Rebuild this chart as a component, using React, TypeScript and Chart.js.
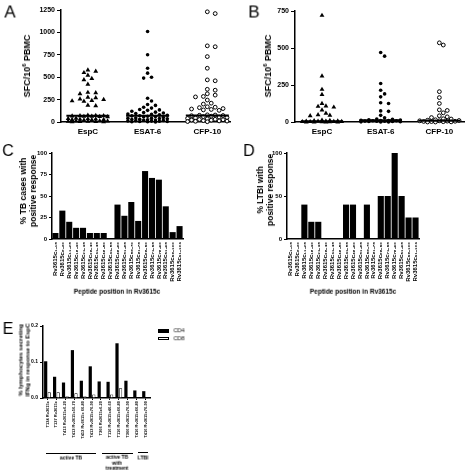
import React, { useEffect, useRef } from "react";
import { Chart, registerables } from "chart.js";
Chart.register(...registerables);

const FF = "'Liberation Sans', Arial, Helvetica, sans-serif";

// ---------- Panel A / B data ----------
const antigenCategories = ["EspC", "ESAT-6", "CFP-10"];

const tbEspC = [580, 565, 550, 520, 485, 470, 420, 330, 325, 315, 275, 270, 255, 250, 240, 235, 230, 185, 180,
  75, 72, 70, 68, 66, 64, 62, 60, 58, 40, 38, 35, 33, 30, 28, 26, 24, 22, 12, 10, 9, 8, 6, 5, 4, 3, 2];
const tbEsat6 = [1010, 750, 600, 545, 500, 490, 265, 235, 195, 185, 165, 155, 140, 135, 130, 120, 110, 105, 100, 95,
  90, 85, 80, 75, 70, 68, 65, 60, 55, 50, 45, 42, 40, 38, 35, 30, 28, 25, 22, 20, 18, 15, 12, 10, 8, 6, 5, 3, 2, 1];
const tbCfp10 = [1230, 1210, 850, 840, 730, 600, 470, 460, 365, 355, 315, 300, 285, 280, 245, 210, 200, 170, 165,
  160, 150, 145, 140, 135, 130, 80, 78, 75, 72, 70, 65, 60, 55, 50, 45, 40, 35, 30, 28, 25, 22, 20, 15, 12, 10, 8, 5, 3];
const tbMedians = [70, 70, 72];
const tbTicks = [0, 250, 500, 750, 1000, 1250];

const ltbiEspC = [720, 310, 220, 185, 125, 108, 105, 100, 80, 58, 48, 45, 42, 12, 10, 8, 6, 5, 5, 4, 3, 3, 2, 2, 1, 1, 0, 0, 0, 0];
const ltbiEsat6 = [470, 445, 260, 215, 190, 170, 130, 125, 75, 72, 45, 28, 20, 18, 15, 14, 12, 10, 10, 8, 8, 6, 5, 5, 4, 3, 2, 1, 0, 0];
const ltbiCfp10 = [535, 520, 205, 165, 125, 82, 78, 62, 42, 35, 30, 22, 20, 15, 12, 10, 8, 8, 6, 5, 4, 3, 2, 1, 0, 0];
const ltbiMedians = [5, 12, 8];
const ltbiTicks = [0, 250, 500, 750];

// ---------- Panel C / D data ----------
const peptideRanges = ["1-15", "6-20", "11-25", "16-30", "21-35", "26-40", "31-45", "36-50", "41-55", "46-60",
  "51-65", "56-70", "61-75", "66-80", "71-85", "76-90", "81-95", "86-100", "91-103"];
const tbPeptidePct = [7, 33, 20, 13, 13, 7, 7, 7, 0, 40, 27, 43, 21, 79, 71, 69, 38, 8, 15];
const ltbiPeptidePct = [0, 0, 40, 20, 20, 0, 0, 0, 40, 40, 0, 40, 0, 50, 50, 100, 50, 25, 25];

// ---------- Panel E data ----------
const tcellLabels = ["T134 Rv3615c", "T137 Rv3615c", "T413 Rv3615c6-20", "T413 Rv3615c56-70", "T413 Rv3615c 66-80",
  "T413 Rv3615c76-90", "T366 Rv3615c6-20", "T116 Rv3615c46-60", "T116 Rv3615c66-80", "T366 Rv3615c76-90",
  "T416 Rv3615c66-80", "T416 Rv3615c76-90"];
const cd4Values = [0.102, 0.059, 0.043, 0.133, 0.048, 0.088, 0.046, 0.045, 0.152, 0.048, 0.021, 0.019];
const cd8Values = [0.016, 0.016, 0.005, 0.013, 0.005, 0.010, 0.002, 0.010, 0.027, 0.002, 0, 0];
const seriesNames = ["CD4", "CD8"];

const SUBS = "₀₁₂₃₄₅₆₇₈₉";
const toSub = (s: string) => s.replace(/[0-9-]/g, (c) => (c === "-" ? "₋" : SUBS[+c]));
const peptideLabels = peptideRanges.map((r) => "Rv3615c" + toSub(r));

// simple beeswarm: horizontal offset derived from the values, in category units
function swarm(values: number[], center: number, yMax: number, plotH: number, catW: number, diam: number, maxHalf: number) {
  const placed: { x: number; y: number }[] = [];
  return values.map((v) => {
    const y = (v / yMax) * plotH;
    let best = 0;
    let bestD = -1;
    for (let k = 0; k < 60; k++) {
      const off = k === 0 ? 0 : (k % 2 ? 1 : -1) * Math.ceil(k / 2) * (diam * 0.9);
      if (Math.abs(off) > maxHalf * catW) break;
      let minD = Infinity;
      for (const p of placed) minD = Math.min(minD, Math.hypot(p.x - off, p.y - y));
      if (minD >= diam) { best = off; bestD = minD; break; }
      if (minD > bestD) { bestD = minD; best = off; }
    }
    placed.push({ x: best, y });
    return { x: center + best / catW, y: v };
  });
}

const axisBorder = { display: true, color: "#000", width: 1.5 };
const yTickGrid = { display: true, drawOnChartArea: false, drawTicks: true, tickLength: 3, color: "#000", lineWidth: 1 };
const noGrid = { display: false, drawTicks: false };

function scatterConfig(series: number[][], medians: number[], ticks: number[], yMax: number, xMin: number, xMax: number,
  yWidth: number, plotH: number, catW: number): any {
  const styles = [
    { pointStyle: "triangle", radius: 2.8, backgroundColor: "#000", borderColor: "#000", borderWidth: 0 },
    { pointStyle: "circle", radius: 1.8, backgroundColor: "#000", borderColor: "#000", borderWidth: 0 },
    { pointStyle: "circle", radius: 1.9, backgroundColor: "#fff", borderColor: "#000", borderWidth: 1 },
  ];
  const medianSets = medians.map((m, i) => ({
    type: "line",
    data: [{ x: i + 1 - 0.36, y: m }, { x: i + 1 + 0.36, y: m }],
    borderColor: "#000",
    borderWidth: 2,
    pointRadius: 0,
    clip: false,
    order: -1,
  }));
  const pointSets = series.map((vals, i) => ({
    type: "scatter",
    data: swarm(vals, i + 1, yMax, plotH, catW, 4.4, 0.36),
    pointRadius: styles[i].radius,
    pointStyle: styles[i].pointStyle,
    pointBackgroundColor: styles[i].backgroundColor,
    pointBorderColor: styles[i].borderColor,
    pointBorderWidth: styles[i].borderWidth,
    backgroundColor: styles[i].backgroundColor,
    borderColor: styles[i].borderColor,
    clip: false,
  }));
  return {
    type: "scatter",
    data: { datasets: [...medianSets, ...pointSets] },
    options: {
      responsive: false,
      animation: false,
      events: [],
      layout: { padding: { top: 0, right: 0, bottom: 0, left: 0 } },
      plugins: { legend: { display: false }, tooltip: { enabled: false } },
      scales: {
        x: {
          type: "linear",
          min: xMin,
          max: xMax,
          afterBuildTicks: (s: any) => { s.ticks = [1, 2, 3].map((v) => ({ value: v })); },
          ticks: {
            callback: (v: any) => antigenCategories[Math.round(v) - 1],
            color: "#000",
            font: { family: FF, size: 8, weight: "bold" },
            padding: 5,
            autoSkip: false,
            maxRotation: 0,
          },
          grid: noGrid,
          border: axisBorder,
          afterFit: (s: any) => { s.height = 23; },
        },
        y: {
          min: 0,
          max: yMax,
          afterBuildTicks: (s: any) => { s.ticks = ticks.map((v) => ({ value: v })); },
          ticks: { color: "#000", font: { family: FF, size: 7, weight: "bold" }, padding: 2, callback: (v: any) => String(v) },
          grid: { ...yTickGrid, tickLength: 4 },
          border: axisBorder,
          afterFit: (s: any) => { s.width = yWidth; },
        },
      },
    },
  };
}

function barConfig(values: number[], max: number, step: number, yWidth: number): any {
  return {
    type: "bar",
    data: {
      labels: peptideLabels,
      datasets: [{ data: values, backgroundColor: "#000", borderWidth: 0, barPercentage: 0.88, categoryPercentage: 1.0 }],
    },
    options: {
      responsive: false,
      animation: false,
      events: [],
      plugins: { legend: { display: false }, tooltip: { enabled: false } },
      scales: {
        x: {
          ticks: {
            color: "#000",
            font: { family: FF, size: 6, weight: "bold" },
            minRotation: 90,
            maxRotation: 90,
            autoSkip: false,
            padding: 3,
          },
          grid: noGrid,
          border: axisBorder,
          afterFit: (s: any) => { s.height = 51; },
        },
        y: {
          min: 0,
          max,
          ticks: { stepSize: step, color: "#000", font: { family: FF, size: 6, weight: "bold" }, padding: 2 },
          grid: yTickGrid,
          border: axisBorder,
          afterFit: (s: any) => { s.width = yWidth; },
        },
      },
    },
  };
}

function groupedConfig(): any {
  return {
    type: "bar",
    data: {
      labels: tcellLabels,
      datasets: [
        { label: seriesNames[0], data: cd4Values, backgroundColor: "#000", borderColor: "#000", borderWidth: 0, barPercentage: 0.9, categoryPercentage: 0.8 },
        { label: seriesNames[1], data: cd8Values, backgroundColor: "#fff", borderColor: "#000", borderWidth: 0.8, barPercentage: 0.9, categoryPercentage: 0.8 },
      ],
    },
    options: {
      responsive: false,
      animation: false,
      events: [],
      plugins: { legend: { display: false }, tooltip: { enabled: false } },
      scales: {
        x: {
          ticks: {
            color: "#000",
            font: { family: FF, size: 4, weight: "bold" },
            minRotation: 90,
            maxRotation: 90,
            autoSkip: false,
            padding: 1,
          },
          grid: { display: true, offset: false, drawOnChartArea: false, drawTicks: true, tickLength: 2, color: "#000", lineWidth: 1 },
          border: axisBorder,
          afterFit: (s: any) => { s.height = 47; },
        },
        y: {
          min: 0,
          max: 0.2,
          ticks: { stepSize: 0.1, color: "#000", font: { family: FF, size: 5, weight: "bold" }, padding: 2, callback: (v: any) => Number(v).toFixed(1) },
          grid: yTickGrid,
          border: axisBorder,
          afterFit: (s: any) => { s.width = 43; },
        },
      },
    },
  };
}

function ChartBox({ left, top, width, height, make }: { left: number; top: number; width: number; height: number; make: () => any }) {
  const ref = useRef<HTMLCanvasElement>(null);
  useEffect(() => {
    const chart = new Chart(ref.current as HTMLCanvasElement, make());
    return () => chart.destroy();
  }, []);
  return <canvas ref={ref} width={width} height={height} style={{ position: "absolute", left, top, width, height }} />;
}

function Txt({ x, y, size, bold, rot, lh, children }: any) {
  return (
    <div
      style={{
        position: "absolute",
        left: x,
        top: y,
        transform: `translate(-50%, -50%) rotate(${rot ? -90 : 0.001}deg)`,
        willChange: "transform",
        fontFamily: FF,
        fontSize: size,
        fontWeight: bold ? "bold" : "normal",
        whiteSpace: "nowrap",
        textAlign: "center",
        lineHeight: lh ? `${lh}px` : 1,
        color: "#000",
      }}
    >
      {children}
    </div>
  );
}

function HLine({ x1, x2, y }: { x1: number; x2: number; y: number }) {
  return <div style={{ position: "absolute", left: x1, top: y, width: x2 - x1, height: 1.3, background: "#000" }} />;
}

export default function App() {
  return (
    <div style={{ position: "absolute", left: 0, top: 0, width: 469, height: 472, background: "#fff", overflow: "hidden" }}>
      {/* Panel A */}
      <ChartBox left={0} top={0} width={235} height={145}
        make={() => {
          const c = scatterConfig([tbEspC, tbEsat6, tbCfp10], tbMedians, tbTicks, 1250, 0.55, 3.38, 61, 112, 60);
          c.options.layout.padding = { top: 10, right: 5, bottom: 0, left: 0 };
          return c;
        }} />
      {/* Panel B */}
      <ChartBox left={235} top={0} width={234} height={145}
        make={() => {
          const c = scatterConfig([ltbiEspC, ltbiEsat6, ltbiCfp10], ltbiMedians, ltbiTicks, 750, 0.54, 3.42, 60, 111, 59);
          c.options.layout.padding = { top: 11, right: 4, bottom: 0, left: 0 };
          return c;
        }} />
      {/* Panel C */}
      <ChartBox left={0} top={140} width={235} height={150}
        make={() => {
          const c = barConfig(tbPeptidePct, 100, 25, 52);
          c.options.layout = { padding: { top: 13, right: 52, bottom: 0, left: 0 } };
          return c;
        }} />
      {/* Panel D */}
      <ChartBox left={235} top={140} width={234} height={150}
        make={() => {
          const c = barConfig(ltbiPeptidePct, 100, 50, 52);
          c.options.layout = { padding: { top: 13, right: 50, bottom: 0, left: 0 } };
          return c;
        }} />
      {/* Panel E */}
      <ChartBox left={0} top={310} width={155} height={135}
        make={() => {
          const c = groupedConfig();
          c.options.layout = { padding: { top: 16, right: 5, bottom: 0, left: 0 } };
          return c;
        }} />

      {/* Panel letters */}
      <Txt x={10} y={12} size={17}>A</Txt>
      <Txt x={254} y={12} size={17}>B</Txt>
      <Txt x={8} y={151} size={16}>C</Txt>
      <Txt x={249} y={151} size={16}>D</Txt>
      <Txt x={8} y={329} size={16}>E</Txt>

      {/* Axis titles */}
      <Txt x={27} y={66} size={9} bold rot>
        SFC/10<sup style={{ fontSize: "0.65em" }}>6</sup> PBMC
      </Txt>
      <Txt x={268} y={66} size={9} bold rot>
        SFC/10<sup style={{ fontSize: "0.65em" }}>6</sup> PBMC
      </Txt>
      <Txt x={28} y={191} size={8.5} bold rot lh={10}>
        % TB cases with<br />positive response
      </Txt>
      <Txt x={265} y={190} size={8.5} bold rot lh={10}>
        % LTBI with<br />positive response
      </Txt>
      <Txt x={117} y={292} size={6.5} bold>Peptide position in Rv3615c</Txt>
      <Txt x={353} y={292} size={6.5} bold>Peptide position in Rv3615c</Txt>
      <Txt x={24} y={360} size={6} bold rot lh={6.5}>
        % lymphocytes secreting<br />IFNg in response to EspC
      </Txt>

      {/* Panel E legend */}
      <div style={{ position: "absolute", left: 158, top: 329, width: 11, height: 4, background: "#000" }} />
      <div style={{ position: "absolute", left: 158, top: 337, width: 11, height: 3, background: "#fff", border: "0.8px solid #000", boxSizing: "border-box" }} />
      <Txt x={179} y={331} size={5.5}>{seriesNames[0]}</Txt>
      <Txt x={179} y={339} size={5.5}>{seriesNames[1]}</Txt>

      {/* Panel E group brackets */}
      <HLine x1={46} x2={96} y={453} />
      <Txt x={71} y={458} size={5} bold>active TB</Txt>
      <HLine x1={102} x2={133} y={453} />
      <Txt x={117} y={463} size={5} bold lh={5.5}>
        active TB<br />with<br />treatment
      </Txt>
      <HLine x1={138} x2={148} y={452} />
      <Txt x={143} y={458} size={5} bold>LTBI</Txt>
    </div>
  );
}
